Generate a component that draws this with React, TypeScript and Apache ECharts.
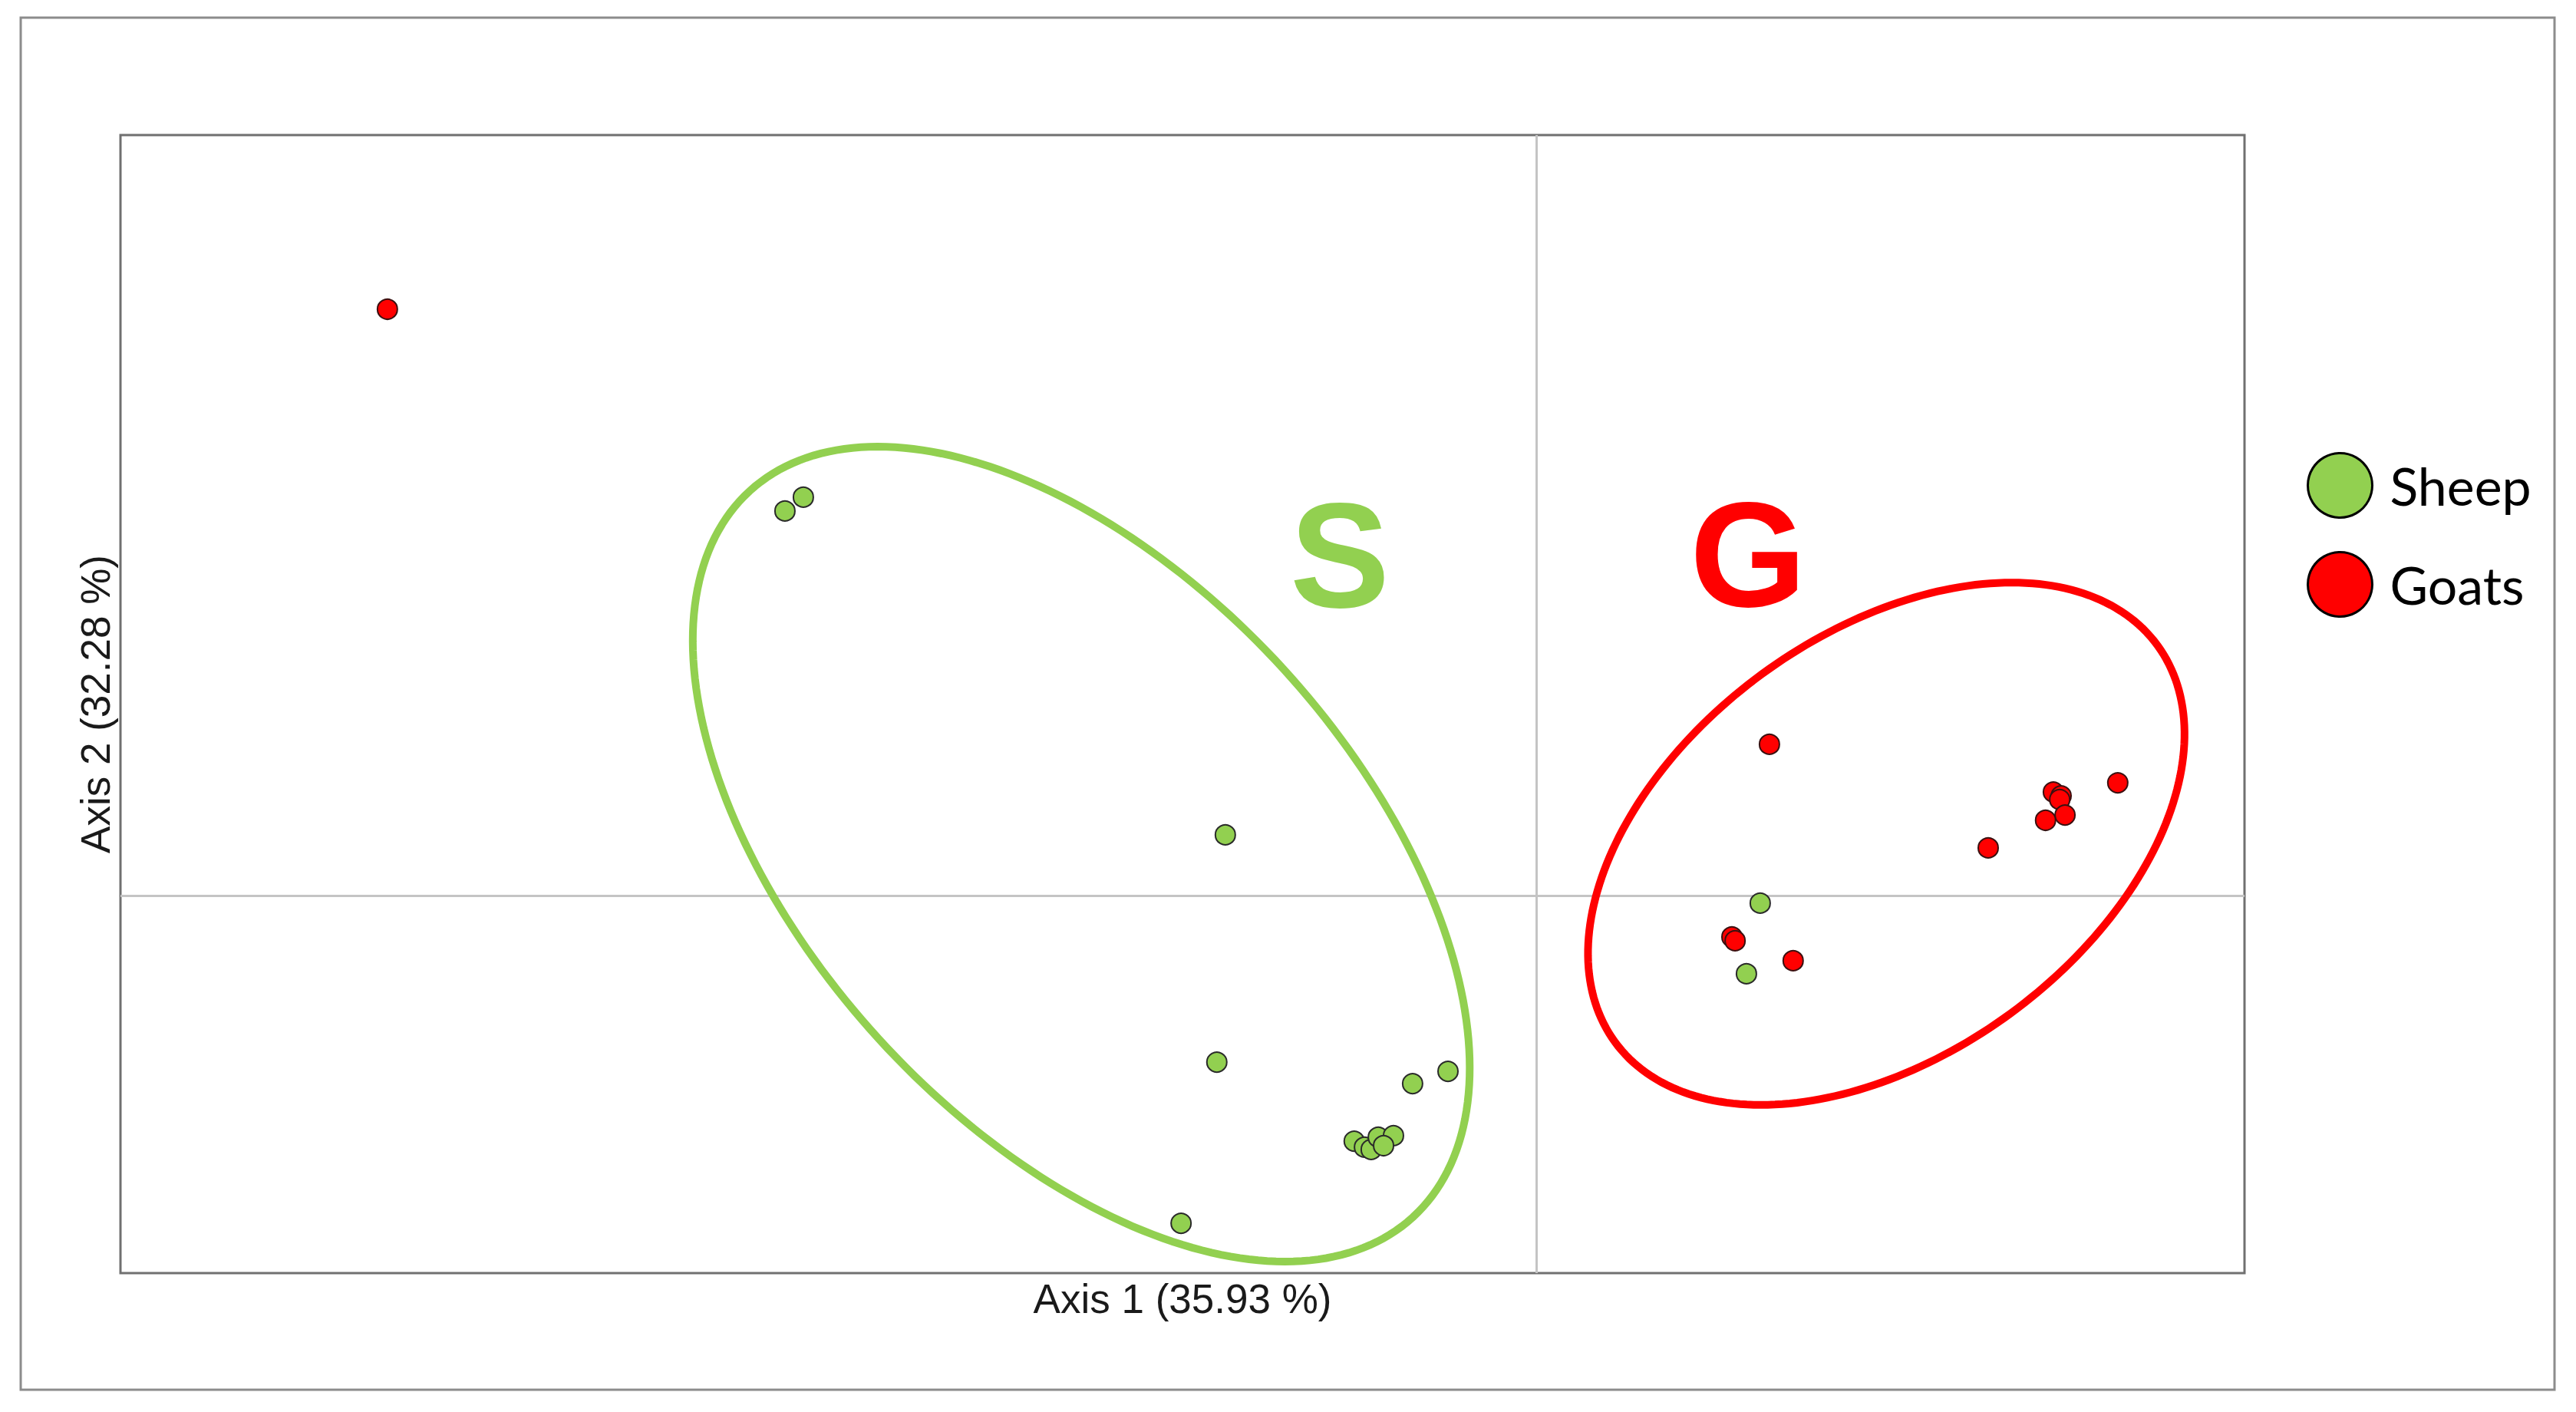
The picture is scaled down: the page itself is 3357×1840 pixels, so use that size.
import React, { useEffect, useRef } from "react";
import * as echarts from "echarts";

// Sheep scores on PCoA axes
const sheepAxis1 = [-0.2123, -0.2071, -0.0879, -0.0903, -0.035, -0.025, -0.0515, -0.0486, -0.0467, -0.0447, -0.0404, -0.0432, -0.1004, 0.0632, 0.0593];
const sheepAxis2 = [0.2038, 0.2111, 0.0322, -0.0882, -0.0996, -0.0931, -0.1301, -0.1333, -0.1345, -0.128, -0.1272, -0.1325, -0.1736, -0.004, -0.0414];

// Goat scores on PCoA axes
const goatAxis1 = [-0.3246, 0.0658, 0.1642, 0.146, 0.1482, 0.1478, 0.1493, 0.1438, 0.1276, 0.0552, 0.0561, 0.0725];
const goatAxis2 = [0.3107, 0.0802, 0.0598, 0.0549, 0.0529, 0.0509, 0.0427, 0.0399, 0.0253, -0.0219, -0.0239, -0.0345];

// Group ellipses: centre and two conjugate semi-diameters (data units)
const sheepEllipse = [-0.1286, 0.022, 0.09366, -0.1924, -0.05718, -0.09795];
const goatEllipse = [0.0988, 0.0275, 0.0766, 0.10515, 0.03509, -0.08994];

const axisTitles = ["Axis 1 (35.93 %)", "Axis 2 (32.28 %)"];
const groupLetters = ["S", "G"];
const seriesNames = ["Sheep", "Goats"];

const GREEN = "#92d050";
const RED = "#ff0000";

function zip(a: number[], b: number[]) {
  return a.map((v, i) => [v, b[i]]);
}

function ellipseRenderer(color: string) {
  return (params: any, api: any) => {
    const cx = api.value(0), cy = api.value(1);
    const ux = api.value(2), uy = api.value(3);
    const vx = api.value(4), vy = api.value(5);
    const pts: number[][] = [];
    const n = 240;
    for (let i = 0; i < n; i++) {
      const t = (2 * Math.PI * i) / n;
      const c = Math.cos(t), s = Math.sin(t);
      pts.push(api.coord([cx + ux * c + vx * s, cy + uy * c + vy * s]));
    }
    return {
      type: "polygon",
      shape: { points: pts },
      style: { fill: "none", stroke: color, lineWidth: 10 },
      silent: true,
    };
  };
}

export default function App() {
  const ref = useRef<HTMLDivElement>(null);
  useEffect(() => {
    if (!ref.current) return;
    const chart = echarts.init(ref.current, null, { renderer: "svg" });
    const gridLeft = 157, gridTop = 176, gridW = 2768, gridH = 1483;
    chart.setOption({
      animation: false,
      backgroundColor: "#ffffff",
      grid: {
        left: gridLeft,
        top: gridTop,
        width: gridW,
        height: gridH,
        show: true,
        borderColor: "#707070",
        borderWidth: 3,
        backgroundColor: "transparent",
      },
      xAxis: {
        type: "value",
        min: -0.4,
        max: 0.2,
        axisLine: { show: false },
        axisTick: { show: false },
        axisLabel: { show: false },
        splitLine: { show: false },
      },
      yAxis: {
        type: "value",
        min: -0.2,
        max: 0.403,
        axisLine: { show: false },
        axisTick: { show: false },
        axisLabel: { show: false },
        splitLine: { show: false },
      },
      legend: {
        orient: "vertical",
        left: 3001,
        top: 584,
        itemWidth: 84,
        itemHeight: 84,
        itemGap: 42,
        icon: "circle",
        data: seriesNames,
        itemStyle: { borderColor: "#000000", borderWidth: 3 },
        textStyle: {
          fontFamily: "Lato",
          fontSize: 68,
          color: "#000000",
          padding: [0, 0, 0, 18],
        },
      },
      graphic: [
        {
          type: "rect",
          shape: { x: 27, y: 23, width: 3302, height: 1788 },
          style: { fill: "none", stroke: "#8c8c8c", lineWidth: 3 },
          z: -10,
          silent: true,
        },
        {
          type: "text",
          x: gridLeft + gridW / 2,
          y: 1692,
          style: {
            text: axisTitles[0],
            fontFamily: "Liberation Sans",
            fontSize: 53,
            fill: "#1a1a1a",
            textAlign: "center",
            textVerticalAlign: "middle",
          },
        },
        {
          type: "text",
          x: 124,
          y: gridTop + gridH / 2,
          rotation: Math.PI / 2,
          style: {
            text: axisTitles[1],
            fontFamily: "Liberation Sans",
            fontSize: 53,
            fill: "#1a1a1a",
            textAlign: "center",
            textVerticalAlign: "middle",
          },
        },
        {
          type: "text",
          x: 1746,
          y: 723,
          style: {
            text: groupLetters[0],
            fontFamily: "Liberation Sans",
            fontWeight: "bold",
            fontSize: 195,
            fill: GREEN,
            textAlign: "center",
            textVerticalAlign: "middle",
          },
        },
        {
          type: "text",
          x: 2278,
          y: 722,
          style: {
            text: groupLetters[1],
            fontFamily: "Liberation Sans",
            fontWeight: "bold",
            fontSize: 195,
            fill: RED,
            textAlign: "center",
            textVerticalAlign: "middle",
          },
        },
      ],
      series: [
        {
          type: "custom",
          name: "sheepEllipse",
          renderItem: ellipseRenderer(GREEN),
          data: [sheepEllipse],
          encode: { x: 0, y: 1 },
          z: 1,
          silent: true,
        },
        {
          type: "custom",
          name: "goatEllipse",
          renderItem: ellipseRenderer(RED),
          data: [goatEllipse],
          encode: { x: 0, y: 1 },
          z: 1,
          silent: true,
        },
        {
          type: "scatter",
          name: seriesNames[0],
          data: zip(sheepAxis1, sheepAxis2),
          symbol: "circle",
          symbolSize: 26,
          itemStyle: { color: GREEN, borderColor: "#2a2a2a", borderWidth: 2, opacity: 1 },
          z: 5,
          markLine: {
            silent: true,
            symbol: "none",
            label: { show: false },
            lineStyle: { color: "#c4c4c4", width: 3, type: "solid" },
            data: [{ xAxis: 0 }, { yAxis: 0 }],
            z: 0,
          },
        },
        {
          type: "scatter",
          name: seriesNames[1],
          data: zip(goatAxis1, goatAxis2),
          symbol: "circle",
          symbolSize: 26,
          itemStyle: { color: RED, borderColor: "#3a1010", borderWidth: 2, opacity: 1 },
          z: 6,
        },
      ],
    });
    return () => chart.dispose();
  }, []);
  return (
    <div
      ref={ref}
      style={{ position: "fixed", left: 0, top: 0, width: "3357px", height: "1840px" }}
    />
  );
}
